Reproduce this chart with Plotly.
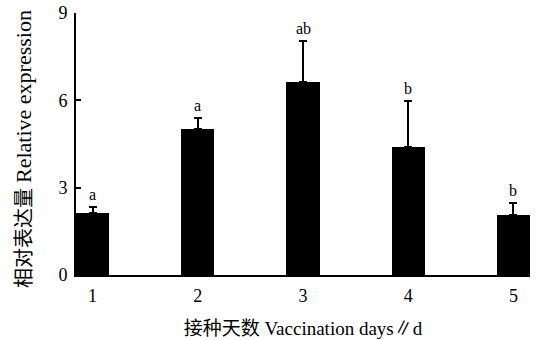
import plotly.graph_objects as go

days = [1, 2, 3, 4, 5]
day_labels = ["1", "2", "3", "4", "5"]
means = [2.14, 5.02, 6.62, 4.40, 2.05]
errors = [0.20, 0.36, 1.43, 1.57, 0.42]
letters = ["a", "a", "ab", "b", "b"]
y_ticks = [0, 3, 6, 9]

FONT = "Liberation Serif, Noto Sans CJK SC, serif"

fig = go.Figure()
fig.add_trace(go.Bar(
    x=days, y=means, width=0.314,
    marker=dict(color="black", line=dict(width=0)),
    error_y=dict(type="data", array=errors, arrayminus=[0]*len(errors), symmetric=False,
                 color="black", thickness=2, width=4),
    showlegend=False,
))

for d, m, e, t in zip(days, means, errors, letters):
    fig.add_annotation(x=d, y=m + e, text=t, showarrow=False, yanchor="bottom",
                       yshift=2, font=dict(family=FONT, size=16, color="black"))

# y-axis title as a rotated annotation for precise placement
fig.add_annotation(x=0, y=0.5, xref="paper", yref="paper", xanchor="center", yanchor="middle",
                   xshift=-53, yshift=-5, textangle=-90, showarrow=False,
                   text="相对表达量 <span style='font-size:22px'>Relative expression</span>",
                   font=dict(family=FONT, size=20, color="black"))

fig.update_layout(
    width=540, height=340,
    margin=dict(l=76, r=10, t=13, b=65),
    plot_bgcolor="white", paper_bgcolor="white",
    bargap=0,
    font=dict(family=FONT, color="black"),
    xaxis=dict(range=[0.843, 5.157], tickvals=days, ticktext=day_labels,
               showline=True, linecolor="black", linewidth=2, ticks="",
               showgrid=False, zeroline=False, tickfont=dict(size=18), automargin=False,
               ticklabelstandoff=3,
               title=dict(text="接种天数 Vaccination days∥d", font=dict(size=19), standoff=17)),
    yaxis=dict(range=[0, 9], tickvals=y_ticks, showline=True, linecolor="black", linewidth=2,
               ticks="inside", ticklen=5, tickwidth=2, tickcolor="black",
               showgrid=False, zeroline=False, tickfont=dict(size=18), automargin=False,
               ticklabelstandoff=3),
)

# remove the browser's default 8px page margin so the figure fills the window exactly
fig.write_html("out.html", config={"displayModeBar": False},
               post_script="document.body.style.margin='0';")
